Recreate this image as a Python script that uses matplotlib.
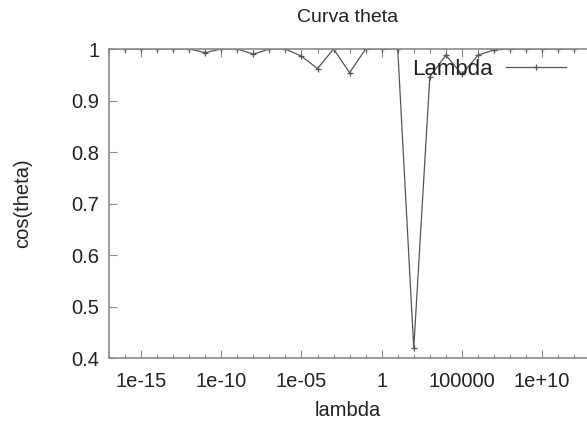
import numpy as np
import matplotlib.pyplot as plt
from matplotlib.ticker import FixedLocator, FixedFormatter, NullFormatter

plt.rcParams['font.family'] = ['Liberation Sans', 'DejaVu Sans']

# data: lambda at every decade, cos(theta)
exponents = list(range(-16, 13))
cos_theta = [1.0, 1.0, 1.0, 1.0, 1.0, 0.993, 1.0, 1.0, 0.99, 1.0,
             1.0, 0.986, 0.962, 1.0, 0.954, 1.0, 1.0, 1.0, 0.419, 0.946,
             0.988, 0.951, 0.988, 0.998, 1.0, 1.0, 1.0, 1.0, 1.0]
lam = [10.0 ** e for e in exponents]

xtick_exp = [-15, -10, -5, 0, 5, 10]
xtick_labels = ['1e-15', '1e-10', '1e-05', '1', '100000', '1e+10']
ytick_vals = [0.4, 0.5, 0.6, 0.7, 0.8, 0.9, 1.0]
ytick_labels = ['0.4', '0.5', '0.6', '0.7', '0.8', '0.9', '1']

frame = '#8a8a8a'
ink = '#222222'

fig = plt.figure(figsize=(5.87, 4.28), dpi=100)
ax = fig.add_axes([109 / 587, 1 - 358 / 428, 1 - 109 / 587, (358 - 49) / 428])

ax.plot(lam, cos_theta, '-', color='#555555', lw=0.9,
        marker='+', ms=5, mew=0.9, label='Lambda')

ax.set_xscale('log')
ax.set_xlim(1e-17, 10 ** 12.8)
ax.set_ylim(0.4, 1.0)

ax.xaxis.set_major_locator(FixedLocator([10.0 ** e for e in xtick_exp]))
ax.xaxis.set_major_formatter(FixedFormatter(xtick_labels))
ax.xaxis.set_minor_locator(FixedLocator([10.0 ** e for e in range(-17, 13)]))
ax.xaxis.set_minor_formatter(NullFormatter())
ax.set_yticks(ytick_vals)
ax.set_yticklabels(ytick_labels)

ax.tick_params(which='both', direction='in', top=True, right=False,
               color=frame, labelcolor=ink, labelsize=14.5)
ax.tick_params(axis='y', pad=7)
ax.tick_params(axis='x', pad=10)
ax.tick_params(which='major', length=6, width=0.8)
ax.tick_params(which='minor', length=3, width=0.8)

for side in ['left', 'bottom', 'top']:
    ax.spines[side].set_color(frame)
    ax.spines[side].set_linewidth(1.2)
ax.spines['right'].set_visible(False)

ax.set_xlabel('lambda', fontsize=14.5, color=ink, labelpad=7)
ax.set_ylabel('cos(theta)', fontsize=14.5, color=ink, labelpad=28)
fig.text(348 / 587, 1 - 17 / 428, 'Curva theta', ha='center', va='center',
         fontsize=14, color=ink)

leg = ax.legend(loc='upper right', bbox_to_anchor=(0.985, 1.01), frameon=False,
                markerfirst=False, fontsize=16, handlelength=2.7,
                handletextpad=0.6, borderaxespad=0.2)
for t in leg.get_texts():
    t.set_color(ink)

fig.savefig('out.png', dpi=100)
